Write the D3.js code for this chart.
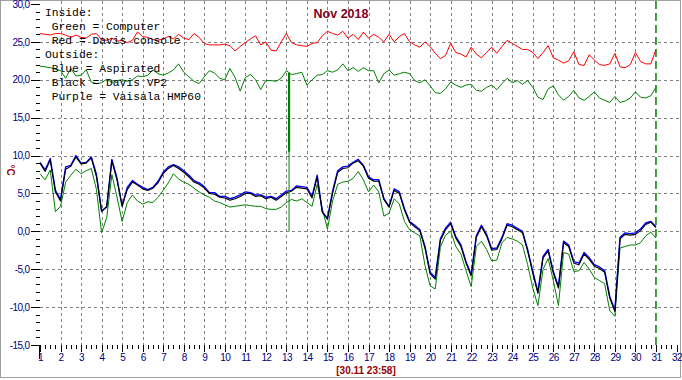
<!DOCTYPE html>
<html>
<head>
<meta charset="utf-8">
<script src="https://cdn.jsdelivr.net/npm/d3@7"></script>
<style>
  body { margin: 0; background: #fff; }
  svg { display: block; }
</style>
</head>
<body>
<svg width="682" height="380"></svg>
<script>
// readings every 6 hours, 1 Nov 00:00 .. 30 Nov 24:00 (x axis = day of month)
var START_DAY = 1
var STEP_DAYS = 0.25

var dayTicks = d3.range(1, 33)
var tempTicks = [-15, -10, -5, 0, 5, 10, 15, 20, 25, 30]

var legendLines = [
  "Inside:",
  " Green = Computer",
  " Red = Davis console",
  "Outside:",
  " Blue = Aspirated",
  " Black = Davis VP2",
  " Purple = Vaisala HMP60"
]

var insideConsole = [
  26.1, 26.0, 25.9, 26.1, 26.1, 25.9, 25.6, 25.9, 25.6, 25.5, 26.0, 26.1,
  25.3, 25.2, 25.5, 25.1, 25.2, 24.9, 25.2, 26.3, 25.7, 25.6, 25.3, 25.2,
  25.4, 25.7, 25.4, 26.0, 25.5, 25.3, 26.1, 25.6, 24.8, 24.6, 24.6, 24.6,
  24.7, 24.5, 23.8, 24.4, 24.9, 25.4, 25.8, 24.6, 25.0, 23.9, 23.8, 25.0,
  26.1, 24.9, 24.6, 24.5, 24.4, 24.8, 24.9, 25.8, 26.4, 26.1, 25.9, 26.4,
  25.5, 26.0, 25.3, 26.3, 25.5, 26.0, 25.6, 25.0, 26.0, 25.0, 25.7, 26.1,
  25.0, 24.6, 24.3, 25.0, 24.4, 23.5, 22.8, 23.2, 24.8, 23.6, 23.4, 23.0,
  24.3, 23.4, 22.9, 23.6, 24.3, 23.5, 24.4, 25.2, 24.8, 24.4, 24.0, 24.0,
  23.6, 22.8, 23.6, 24.5, 22.9, 22.6, 22.2, 22.5, 23.7, 22.0, 21.9, 23.3,
  22.6, 22.0, 21.9, 22.1, 23.5, 21.7, 21.6, 22.0, 23.6, 22.4, 22.1, 22.1,
  24.0
]

var insideComputer = [
  21.8, 21.7, 21.6, 21.4, 21.2, 20.2, 21.5, 20.5, 20.6, 21.3, 19.7, 19.5,
  19.6, 20.1, 19.6, 19.9, 20.0, 19.8, 20.0, 20.5, 20.4, 20.6, 21.3, 20.8,
  20.6, 20.9, 21.3, 22.1, 21.0, 20.4, 19.8, 19.5, 20.4, 21.2, 20.9, 20.2,
  20.0, 21.5, 20.3, 18.5, 20.3, 20.7, 20.0, 18.7, 19.9, 19.9, 19.8, 20.2,
  21.2, 20.7, 20.8, 21.0, 19.3, 20.0, 20.6, 20.7, 21.2, 21.0, 21.3, 22.1,
  21.2, 21.6, 21.1, 21.6, 21.2, 21.2, 19.6, 20.8, 21.3, 20.6, 20.8, 21.0,
  20.8, 19.9, 19.6, 20.0, 19.2, 18.3, 18.2, 18.8, 19.7, 19.3, 19.0, 19.3,
  19.4, 18.6, 18.5, 19.0, 19.3, 18.7, 19.5, 20.2, 19.6, 19.9, 19.4, 19.9,
  19.0, 17.7, 17.4, 18.8, 19.2, 18.0, 17.3, 17.8, 18.6, 17.6, 17.3, 17.8,
  18.4, 17.6, 17.3, 17.0, 17.8, 17.0, 17.2, 17.6, 18.4, 17.7, 17.6, 17.9,
  19.0
]

var outsideAspirated = [
  9.1, 8.1, 9.6, 5.4, 4.2, 8.5, 8.7, 10.0, 9.0, 9.1, 9.8, 7.5,
  2.7, 3.2, 9.5, 7.0, 3.3, 5.8, 6.7, 6.2, 5.8, 5.5, 5.8, 6.6,
  7.8, 8.5, 8.8, 8.5, 8.0, 7.4, 6.7, 6.4, 5.9, 5.1, 5.1, 4.6,
  4.6, 4.3, 4.5, 4.8, 5.2, 5.1, 4.8, 4.8, 4.5, 4.6, 4.3, 4.8,
  5.3, 5.4, 6.0, 5.9, 5.8, 4.6, 7.4, 2.6, 1.7, 5.3, 8.0, 8.5,
  8.6, 9.1, 9.5, 8.7, 7.2, 6.8, 6.8, 4.3, 3.3, 5.6, 5.2, 3.0,
  1.3, 0.8, 0.2, -2.0, -5.4, -6.1, -1.0, 0.4, 1.2, -0.7, -1.8, -4.0,
  -5.7, -0.6, 0.8, -0.4, -2.3, -2.2, -0.8, 1.0, 0.8, 0.4, 0.0, -2.4,
  -5.3, -8.0, -3.3, -2.4, -5.3, -7.3, -1.3, -1.8, -4.0, -4.2, -2.8, -3.5,
  -4.4, -4.7, -5.2, -8.6, -10.4, -0.8, -0.2, -0.3, -0.2, 0.3, 1.1, 1.3,
  0.6
]

var outsideVP2 = [
  9.0, 7.9, 9.4, 5.2, 4.0, 8.2, 8.6, 9.8, 8.9, 9.0, 9.7, 7.2,
  2.6, 3.3, 9.3, 6.8, 3.4, 5.5, 6.5, 6.1, 5.6, 5.4, 5.7, 6.4,
  7.6, 8.3, 8.7, 8.3, 7.8, 7.2, 6.5, 6.2, 5.7, 5.0, 4.9, 4.5,
  4.4, 4.1, 4.3, 4.6, 5.0, 5.0, 4.6, 4.7, 4.3, 4.5, 4.1, 4.6,
  5.1, 5.3, 5.8, 5.7, 5.6, 4.4, 7.2, 2.5, 1.6, 5.0, 7.8, 8.3,
  8.4, 9.0, 9.3, 8.6, 7.0, 6.6, 6.6, 4.2, 3.2, 5.4, 5.0, 2.8,
  1.2, 0.6, 0.1, -2.2, -5.6, -6.3, -1.2, 0.2, 1.0, -0.9, -2.0, -4.2,
  -5.9, -0.8, 0.6, -0.6, -2.5, -2.4, -1.0, 0.8, 0.6, 0.2, -0.2, -2.6,
  -5.5, -8.2, -3.5, -2.6, -5.5, -7.5, -1.5, -2.0, -4.2, -4.4, -3.0, -3.7,
  -4.6, -4.9, -5.4, -8.8, -10.6, -1.0, -0.4, -0.5, -0.4, 0.1, 0.9, 1.2,
  0.5
]

var outsideHMP60 = [
  7.6, 6.8, 8.1, 2.6, 3.3, 6.5, 7.4, 8.2, 7.6, 8.0, 8.3, 5.5,
  -0.2, 1.8, 7.5, 4.5, 1.3, 3.8, 4.8, 4.0, 3.6, 3.9, 3.8, 4.5,
  5.4, 6.4, 7.6, 6.9, 6.5, 6.2, 5.7, 5.2, 4.8, 4.5, 4.0, 3.8,
  3.5, 3.2, 3.3, 3.4, 3.5, 3.4, 3.3, 3.3, 3.0, 2.9, 2.9, 3.2,
  3.8, 4.2, 4.0, 4.3, 3.8, 3.3, 6.2, 3.0, 0.3, 4.0, 6.2, 6.5,
  6.6, 7.0, 7.9, 6.8, 5.2, 6.1, 5.2, 2.0, 2.4, 4.3, 3.6, 1.3,
  0.2, -0.2, -0.6, -4.5, -7.2, -7.6, -2.1, -0.5, 0.0, -2.0, -3.0, -5.2,
  -7.3, -2.0, -1.3, -2.4, -3.9, -3.8, -1.5, -0.8, -1.0, -1.3, -1.8, -4.4,
  -7.5, -9.8, -5.0, -3.6, -6.5, -9.8, -2.8, -3.0, -5.3, -5.2, -4.1, -5.0,
  -6.1, -6.5, -6.9, -10.5, -11.2, -2.2, -2.0, -1.8, -1.8, -1.5, -0.6, -0.1,
  -0.9
]

// single bad readings on the 13th
var GLITCH_DAY = 13.13
var glitchComputer = [20.9, 10.5]
var glitchOutside = [20.9, 0.0]

var NOW_DAY = 31
var TITLE = "Nov 2018"
var STAMP = "[30.11 23:58]"

main()

function main() {
  var GRID = "#808080"
  var AXIS_TEXT = "#000080"
  var MAROON = "#800020"

  var svg = d3.select("svg")

  var x = d3.scaleLinear().domain([1, 32]).range([40, 676.5])
  var y = d3.scaleLinear().domain([-15, 30]).range([345, 4])

  svg.append("rect")
      .attr("x", 0.5).attr("y", 0.5)
      .attr("width", 680).attr("height", 377)
      .attr("fill", "white")
      .attr("stroke", "#a0a0a0")

  // dashed grid
  svg.append("g").selectAll("line")
      .data(dayTicks.filter(function(d) { return d > 1 && d < NOW_DAY }))
      .join("line")
      .attr("x1", function(d) { return Math.round(x(d)) + 0.5 })
      .attr("x2", function(d) { return Math.round(x(d)) + 0.5 })
      .attr("y1", 1).attr("y2", y(-15))
      .attr("stroke", GRID)
      .attr("stroke-dasharray", "3,3")

  svg.append("g").selectAll("line")
      .data(tempTicks.filter(function(d) { return d > -15 && d < 30 }))
      .join("line")
      .attr("x1", 40).attr("x2", 680)
      .attr("y1", function(d) { return Math.round(y(d)) + 0.5 })
      .attr("y2", function(d) { return Math.round(y(d)) + 0.5 })
      .attr("stroke", GRID)
      .attr("stroke-dasharray", "3,3")

  // y axis: labels + major ticks, then 1-degree minor ticks
  var yAxis = svg.append("g")
      .attr("transform", "translate(39.5,0)")
      .call(d3.axisLeft(y).tickValues(tempTicks).tickSize(9).tickPadding(1)
        .tickFormat(function(d) { return d.toFixed(1).replace(".", ",") }))
  yAxis.select(".domain").remove()

  var yMinor = svg.append("g")
      .attr("transform", "translate(39.5,0)")
      .call(d3.axisLeft(y).tickValues(d3.range(-15, 31).filter(function(d) { return d % 5 != 0 }))
        .tickSize(4).tickFormat(""))
  yMinor.select(".domain").remove()

  // x axis: days + 6-hour minor ticks
  var xAxis = svg.append("g")
      .attr("transform", "translate(0,345)")
      .call(d3.axisBottom(x).tickValues(dayTicks).tickSize(7).tickPadding(2)
        .tickFormat(d3.format("d")))
  xAxis.select(".domain").remove()

  var xMinor = svg.append("g")
      .attr("transform", "translate(0,345)")
      .call(d3.axisBottom(x).tickValues(d3.range(1, 32, STEP_DAYS).filter(function(d) { return d % 1 != 0 }))
        .tickSize(4).tickFormat(""))
  xMinor.select(".domain").remove()

  svg.selectAll(".tick line").attr("stroke", "black").attr("shape-rendering", "crispEdges")
  svg.selectAll(".tick text")
      .attr("fill", AXIS_TEXT)
      .attr("font-family", "Liberation Sans, Arial, sans-serif")
      .attr("font-size", 10)
      .attr("letter-spacing", -0.6)

  svg.append("line")
      .attr("x1", 39.5).attr("x2", 39.5)
      .attr("y1", 345).attr("y2", 359)
      .attr("stroke", "black")

  // now marker
  svg.append("line")
      .attr("x1", x(NOW_DAY)).attr("x2", x(NOW_DAY))
      .attr("y1", 1).attr("y2", y(-15))
      .attr("stroke", "#008000")
      .attr("stroke-width", 1.5)
      .attr("stroke-dasharray", "8,4")

  var line = d3.line()
      .x(function(d, i) { return x(START_DAY + i * STEP_DAYS) })
      .y(function(d) { return y(d) })

  var series = [
    { values: insideConsole, color: "#ff0000", width: 1 },
    { values: insideComputer, color: "#008000", width: 1 },
    { values: outsideHMP60, color: "#008000", width: 1 },
    { values: outsideAspirated, color: "#0000ff", width: 1.4 },
    { values: outsideVP2, color: "#000000", width: 1.1 }
  ]

  svg.append("g").selectAll("path")
      .data(series)
      .join("path")
      .attr("d", function(s) { return line(s.values) })
      .attr("fill", "none")
      .attr("stroke", function(s) { return s.color })
      .attr("stroke-width", function(s) { return s.width })
      .attr("stroke-linejoin", "round")

  svg.append("line")
      .attr("x1", x(GLITCH_DAY)).attr("x2", x(GLITCH_DAY))
      .attr("y1", y(glitchOutside[0])).attr("y2", y(glitchOutside[1]))
      .attr("stroke", "#008000")
      .attr("stroke-width", 1)
  svg.append("line")
      .attr("x1", x(GLITCH_DAY)).attr("x2", x(GLITCH_DAY))
      .attr("y1", y(glitchComputer[0])).attr("y2", y(glitchComputer[1]))
      .attr("stroke", "#008000")
      .attr("stroke-width", 2.2)

  // legend block
  svg.append("g").selectAll("text")
      .data(legendLines)
      .join("text")
      .attr("x", 45)
      .attr("y", function(d, i) { return 16 + i * 14 })
      .attr("xml:space", "preserve")
      .style("white-space", "pre")
      .attr("font-family", "Liberation Mono, Courier New, monospace")
      .attr("font-size", 11.3)
      .attr("fill", "black")
      .text(function(d) { return d })

  svg.append("text")
      .attr("x", 341).attr("y", 17.5)
      .attr("text-anchor", "middle")
      .attr("font-family", "Liberation Sans, Arial, sans-serif")
      .attr("font-weight", "bold")
      .attr("font-size", 12.5)
      .attr("fill", MAROON)
      .text(TITLE)

  svg.append("text")
      .attr("x", 366).attr("y", 374)
      .attr("text-anchor", "middle")
      .attr("font-family", "Liberation Sans, Arial, sans-serif")
      .attr("font-weight", "bold")
      .attr("font-size", 10)
      .attr("fill", "#990000")
      .text(STAMP)

  svg.append("text")
      .attr("transform", "translate(7,170) rotate(90)")
      .attr("text-anchor", "middle")
      .attr("font-family", "Liberation Sans, Arial, sans-serif")
      .attr("font-weight", "bold")
      .attr("font-size", 10)
      .attr("fill", "#990000")
      .text("°C")
}
</script>
</body>
</html>
